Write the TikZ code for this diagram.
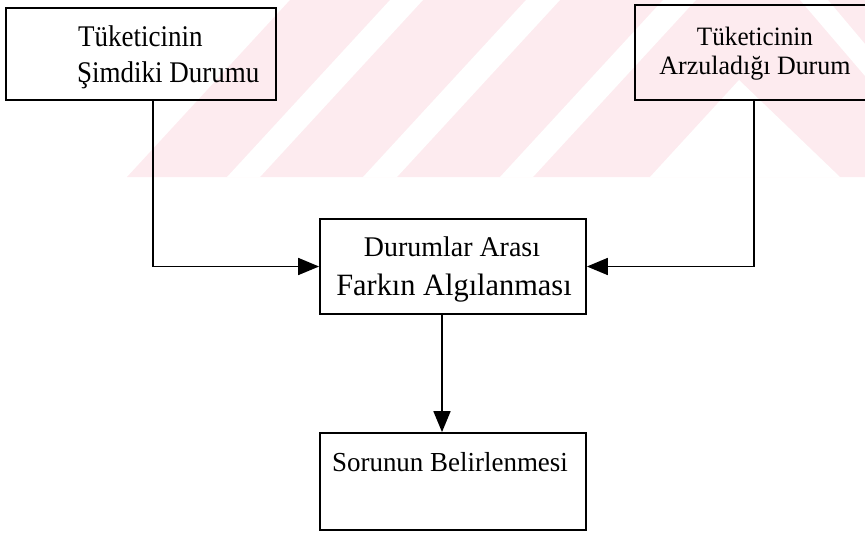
\documentclass[tikz,border=0pt]{standalone}
\usepackage{fontspec}
\usepackage{graphicx}
\setmainfont{Liberation Serif}
\usetikzlibrary{arrows.meta}
\definecolor{wmpink}{RGB}{253,235,239}
% narrowed text: \narrow{factor}{text}
\newcommand{\narrow}[2]{\scalebox{#1}[1]{#2}}
\begin{document}
\begin{tikzpicture}[x=1pt,y=1pt,
  box/.style={draw=black, line width=1.8pt, rectangle, inner sep=0pt},
  flow/.style={draw=black, line width=1.8pt, -{Triangle[length=21pt,width=17pt]}},
  lbl/.style={anchor=base, inner sep=0pt},
]
\useasboundingbox (0,0) rectangle (865,-533);

% faint striped band behind the upper part
\begin{scope}
  \clip (0,0) rectangle (865,-533);
  \fill[wmpink] (127,-177) -- (290,0) -- (865,0) -- (865,-177) -- cycle;
  \foreach \a/\b in {227/260,363/397,500/533}{
    \fill[white] (\a,-177) -- (\a+163,0) -- (\b+163,0) -- (\b,-177) -- cycle;
  }
  \fill[white] (650,-177) -- (739,-80) -- (840,-177) -- cycle;
  \fill[white] (800,0) -- (828,0) -- (865,-44) -- (865,-76) -- cycle;
\end{scope}

% boxes
\node[box, minimum width=270pt, minimum height=92pt] (now)  at (141,-54)    {};
\node[box, minimum width=240pt, minimum height=95pt] (want) at (755,-52.5)  {};
\node[box, minimum width=266pt, minimum height=95pt] (diff) at (453,-266.5) {};
\node[box, minimum width=266pt, minimum height=97pt] (prob) at (453,-481.5) {};

% box texts
\node[lbl, anchor=base west, font=\fontsize{30}{36}\selectfont] (now1) at (78,-46) {\narrow{0.9}{Tüketicinin}};
\node[lbl, anchor=base west, font=\fontsize{30}{36}\selectfont] (now2) at (77,-82) {\narrow{0.9}{Şimdiki Durumu}};
\node[lbl, font=\fontsize{26.5}{32}\selectfont] (want1) at (755,-45) {\narrow{0.95}{Tüketicinin}};
\node[lbl, font=\fontsize{26.5}{32}\selectfont] (want2) at (755,-74) {\narrow{0.98}{Arzuladığı Durum}};
\node[lbl, font=\fontsize{28.5}{34}\selectfont] (diff1) at (452,-256) {\narrow{0.98}{Durumlar Arası}};
\node[lbl, font=\fontsize{31}{37}\selectfont] (diff2) at (454,-295) {\narrow{0.98}{Farkın Algılanması}};
\node[lbl, font=\fontsize{27.5}{33}\selectfont] (prob1) at (450,-471) {\narrow{0.98}{Sorunun Belirlenmesi}};

% connectors
\draw[flow] ([xshift=12pt]now.south) |- (diff.west);
\draw[flow] ([xshift=-1pt]want.south) |- (diff.east);
\draw[flow] ([xshift=-11pt]diff.south) -- ([xshift=-11pt]prob.north);
\end{tikzpicture}
\end{document}
